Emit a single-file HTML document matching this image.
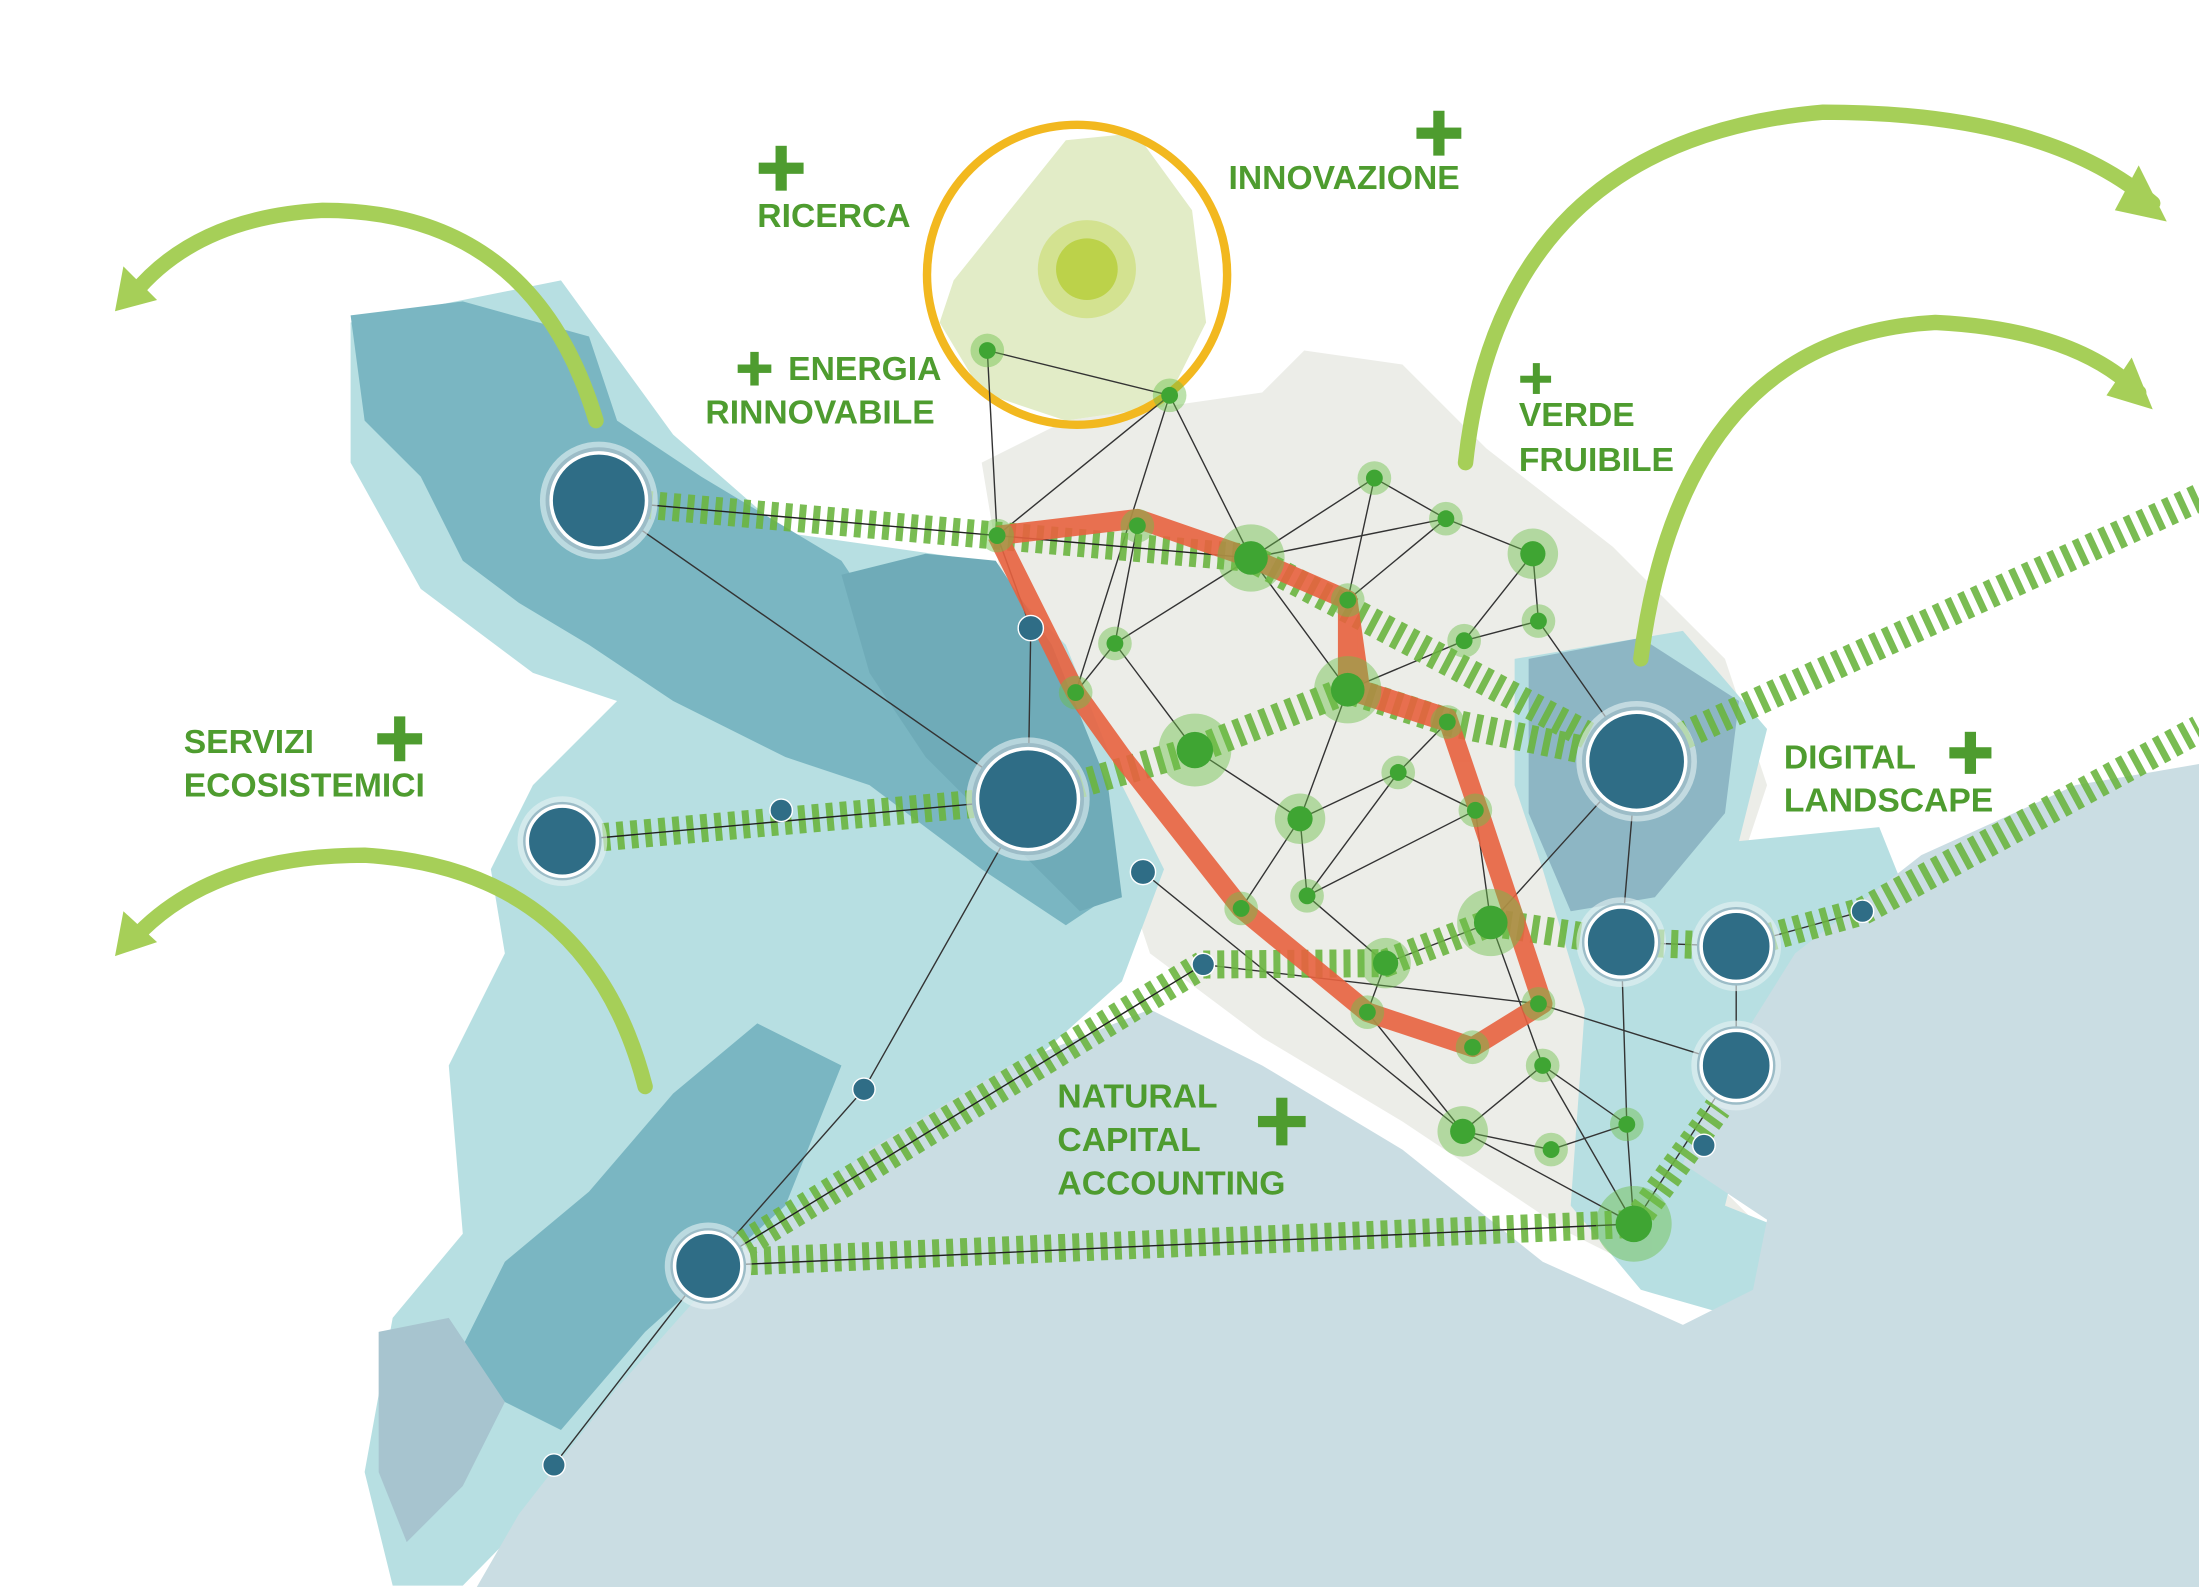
<!DOCTYPE html>
<html><head><meta charset="utf-8">
<style>
html,body{margin:0;padding:0;background:#fff;}
svg{display:block;}
text{font-family:"Liberation Sans",sans-serif;font-weight:bold;fill:#4e9c2f;font-size:24px;}
</style></head>
<body>
<svg width="2199" height="1587" viewBox="0 0 1568 1132" preserveAspectRatio="none" xmlns="http://www.w3.org/2000/svg">
<rect width="1568" height="1132" fill="#fff"/>
<path d="M700,330 L760,300 L900,280 L930,250 L1000,260 L1060,320 L1150,390 L1230,470 L1260,560 L1240,620 L1200,700 L1180,800 L1260,880 L1220,930 L1120,880 L1000,800 L900,740 L820,680 L780,560 L720,450 Z" fill="#ecede8"/>
<path d="M250,230 L400,200 L480,310 L560,380 L700,400 L760,460 L800,560 L830,620 L800,700 L700,790 L560,900 L470,1000 L380,1080 L330,1131 L280,1131 L260,1050 L280,940 L330,880 L320,760 L360,680 L350,620 L380,560 L440,500 L380,480 L300,420 L250,330 Z" fill="#b7dfe2"/>
<path d="M1080,470 L1200,450 L1260,520 L1240,600 L1340,590 L1360,640 L1280,700 L1250,780 L1230,860 L1280,880 L1240,940 L1170,920 L1120,860 L1130,720 L1100,620 L1080,560 Z" fill="#b7dfe2"/>
<path d="M250,225 L330,215 L420,240 L440,300 L500,340 L600,400 L640,460 L700,520 L760,540 L790,640 L760,660 L700,620 L620,560 L560,540 L480,500 L420,460 L370,430 L330,400 L300,340 L260,300 Z" fill="#7ab6c2"/>
<path d="M600,410 L660,395 L710,400 L750,460 L790,560 L800,640 L770,650 L720,600 L660,540 L620,480 Z" fill="#6fabb8"/>
<path d="M480,780 L540,730 L600,760 L560,860 L460,950 L400,1020 L360,1000 L330,960 L360,900 L420,850 Z" fill="#7ab6c2"/>
<path d="M270,950 L320,940 L360,1000 L330,1060 L290,1100 L270,1050 Z" fill="#a7c4cf"/>
<path d="M1090,470 L1170,455 L1240,500 L1230,580 L1180,640 L1120,650 L1090,580 Z" fill="#82abbd" opacity="0.8"/>
<path d="M1568,545 L1480,560 L1370,610 L1280,680 L1230,760 L1200,830 L1260,870 L1250,920 L1200,945 L1100,900 L1000,820 L900,760 L820,720 L720,760 L620,820 L520,900 L440,990 L370,1080 L340,1132 L1568,1132 Z" fill="#cadde3"/>
<path d="M680,200 L720,150 L760,100 L810,95 L850,150 L860,230 L830,290 L760,300 L700,280 L670,230 Z" fill="#e2ecc7"/>
<circle cx="768" cy="196" r="107" fill="none" stroke="#f2b81f" stroke-width="6"/>
<g stroke="#333" stroke-width="1" fill="none">
<path d="M704,250 L834,282 L892,398 M704,250 L711,382 L834,282 M711,382 L735,448 L733,570 M427,357 L733,570 L616,777 L505,903 L395,1045 M834,282 L767,494 M811,375 L795,459 L767,494 M795,459 L892,398 L961,492 L927,584 L885,648 M892,398 L980,341 L1031,370 L1093,395 L1097,443 M892,398 L1031,370 M980,341 L961,428 L1031,370 M961,492 L1044,457 L1097,443 L1167,543 M1044,457 L1093,395 M1032,515 L997,551 L927,584 M852,535 L795,459 M852,535 L927,584 L932,639 L997,551 L1052,578 L932,639 M1052,578 L1063,658 L988,687 L932,639 M1063,658 L1167,543 M988,687 L975,722 M1063,658 L1100,760 L1043,807 L975,722 M1100,760 L1160,802 L1106,820 L1043,807 L1165,873 L1160,802 L1156,672 L1167,543 M1097,716 L1238,760 M1156,672 L1238,675 L1238,760 L1165,873 M815,622 L1043,807 M858,688 L1097,716 M1100,760 L1165,873 M1238,675 L1328,650"/>
</g>
<g stroke="#6bb540" stroke-width="20" stroke-dasharray="5 5" fill="none" opacity="0.9">
<path d="M460,360 L892,398 L1167,543"/>
<path d="M420,598 L733,570 L852,535 L961,492 L1032,515 L1130,535"/>
<path d="M1200,525 L1568,355"/>
<path d="M858,688 L988,687 L1063,658 L1156,672 L1238,675 L1328,650 L1568,520"/>
<path d="M505,903 L858,688"/>
<path d="M525,900 L1165,873"/>
<path d="M1165,873 L1225,790"/>
</g>
<g stroke="#222" stroke-width="1" fill="none">
<path d="M427,357 L892,398 M401,600 L733,570 M505,903 L858,688 M505,903 L1165,873"/>
</g>
<g stroke="#e8623f" stroke-width="14" fill="none" stroke-linejoin="round" opacity="0.9">
<path d="M711,382 L811,370 L892,398 L961,428 L970,492 L1032,512 L1055,580 L1100,716 L1050,747 L975,722 L885,648 L800,540 L767,494 L711,382"/>
<path d="M961,428 L961,492 L1032,515"/>
</g>
<g fill="none" stroke="#a6cf58" stroke-width="11" stroke-linecap="round">
<path d="M425,300 Q380,150 230,150 Q140,155 95,210"/>
<path d="M460,775 Q420,620 260,610 Q150,610 95,670"/>
<path d="M1045,330 Q1070,100 1300,80 Q1460,80 1535,145"/>
<path d="M1170,470 Q1200,240 1380,230 Q1480,235 1525,280"/>
</g>
<g fill="#a6cf58">
<polygon points="82,222 88,190 112,214"/>
<polygon points="82,682 88,650 112,672"/>
<polygon points="1545,158 1525,118 1508,150"/>
<polygon points="1535,292 1520,255 1502,282"/>
</g>
<g fill="#2f6d86" stroke="#e6f2f4" stroke-opacity="0.6" stroke-width="8">
<circle cx="427" cy="357" r="38"/><circle cx="733" cy="570" r="40"/><circle cx="401" cy="600" r="28"/>
<circle cx="1167" cy="543" r="39"/><circle cx="1156" cy="672" r="28"/><circle cx="1238" cy="675" r="28"/>
<circle cx="1238" cy="760" r="28"/><circle cx="505" cy="903" r="27"/>
</g>
<g fill="#2f6d86" stroke="#fff" stroke-width="2.5">
<circle cx="427" cy="357" r="34"/><circle cx="733" cy="570" r="36"/><circle cx="401" cy="600" r="25"/>
<circle cx="1167" cy="543" r="35"/><circle cx="1156" cy="672" r="25"/><circle cx="1238" cy="675" r="25"/>
<circle cx="1238" cy="760" r="25"/><circle cx="505" cy="903" r="24"/>
</g>
<g fill="#2f6d86" stroke="#fff" stroke-width="1">
<circle cx="735" cy="448" r="9"/><circle cx="557" cy="578" r="8"/><circle cx="815" cy="622" r="9"/><circle cx="858" cy="688" r="8"/><circle cx="616" cy="777" r="8"/><circle cx="395" cy="1045" r="8"/><circle cx="1328" cy="650" r="8"/><circle cx="1215" cy="817" r="8"/>
</g>
<circle cx="775" cy="192" r="35" fill="#c9dc6a" opacity="0.6"/><circle cx="775" cy="192" r="22" fill="#bcd24a"/>
<g fill="#6cc04a" opacity="0.45">
<circle cx="704" cy="250" r="12"/><circle cx="834" cy="282" r="12"/><circle cx="711" cy="382" r="12"/><circle cx="811" cy="375" r="12"/><circle cx="892" cy="398" r="24"/><circle cx="961" cy="428" r="12"/><circle cx="980" cy="341" r="12"/><circle cx="1031" cy="370" r="12"/><circle cx="1093" cy="395" r="18"/><circle cx="1097" cy="443" r="12"/><circle cx="1044" cy="457" r="12"/><circle cx="795" cy="459" r="12"/><circle cx="767" cy="494" r="12"/><circle cx="961" cy="492" r="24"/><circle cx="1032" cy="515" r="12"/><circle cx="852" cy="535" r="26"/><circle cx="997" cy="551" r="12"/><circle cx="927" cy="584" r="18"/><circle cx="1052" cy="578" r="12"/><circle cx="932" cy="639" r="12"/><circle cx="885" cy="648" r="12"/><circle cx="1063" cy="658" r="24"/><circle cx="988" cy="687" r="18"/><circle cx="1097" cy="716" r="12"/><circle cx="975" cy="722" r="12"/><circle cx="1050" cy="747" r="12"/><circle cx="1100" cy="760" r="12"/><circle cx="1043" cy="807" r="18"/><circle cx="1106" cy="820" r="12"/><circle cx="1160" cy="802" r="12"/><circle cx="1165" cy="873" r="27"/>
</g>
<g fill="#3fa533">
<circle cx="704" cy="250" r="6"/><circle cx="834" cy="282" r="6"/><circle cx="711" cy="382" r="6"/><circle cx="811" cy="375" r="6"/><circle cx="892" cy="398" r="12"/><circle cx="961" cy="428" r="6"/><circle cx="980" cy="341" r="6"/><circle cx="1031" cy="370" r="6"/><circle cx="1093" cy="395" r="9"/><circle cx="1097" cy="443" r="6"/><circle cx="1044" cy="457" r="6"/><circle cx="795" cy="459" r="6"/><circle cx="767" cy="494" r="6"/><circle cx="961" cy="492" r="12"/><circle cx="1032" cy="515" r="6"/><circle cx="852" cy="535" r="13"/><circle cx="997" cy="551" r="6"/><circle cx="927" cy="584" r="9"/><circle cx="1052" cy="578" r="6"/><circle cx="932" cy="639" r="6"/><circle cx="885" cy="648" r="6"/><circle cx="1063" cy="658" r="12"/><circle cx="988" cy="687" r="9"/><circle cx="1097" cy="716" r="6"/><circle cx="975" cy="722" r="6"/><circle cx="1050" cy="747" r="6"/><circle cx="1100" cy="760" r="6"/><circle cx="1043" cy="807" r="9"/><circle cx="1106" cy="820" r="6"/><circle cx="1160" cy="802" r="6"/><circle cx="1165" cy="873" r="13"/>
</g>
<g fill="#4e9c2f">
<rect x="541" y="116" width="32" height="8"/><rect x="553" y="104" width="8" height="32"/>
<rect x="1010" y="91" width="32" height="8"/><rect x="1022" y="79" width="8" height="32"/>
<rect x="526" y="260" width="24" height="6"/><rect x="535" y="251" width="6" height="24"/>
<rect x="1084" y="268" width="22" height="5"/><rect x="1093" y="259" width="5" height="22"/>
<rect x="269" y="523" width="32" height="8"/><rect x="281" y="511" width="8" height="32"/>
<rect x="1390" y="533" width="30" height="8"/><rect x="1401" y="522" width="8" height="30"/>
<rect x="897" y="796" width="34" height="8"/><rect x="910" y="783" width="8" height="34"/>
</g>
<text x="540" y="162">RICERCA</text>
<text x="876" y="135">INNOVAZIONE</text>
<text x="562" y="271">ENERGIA</text>
<text x="503" y="302">RINNOVABILE</text>
<text x="1083" y="304">VERDE</text>
<text x="1083" y="336">FRUIBILE</text>
<text x="131" y="537">SERVIZI</text>
<text x="131" y="568">ECOSISTEMICI</text>
<text x="1272" y="548">DIGITAL</text>
<text x="1272" y="579">LANDSCAPE</text>
<text x="754" y="790">NATURAL</text>
<text x="754" y="821">CAPITAL</text>
<text x="754" y="852">ACCOUNTING</text>
</svg>
</body></html>
